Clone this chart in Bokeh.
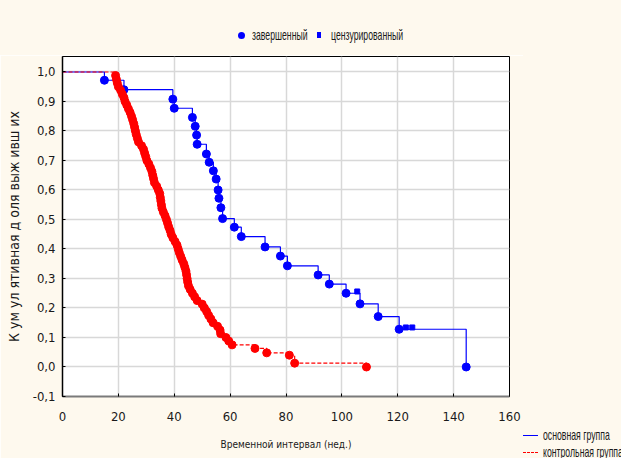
from bokeh.plotting import figure
from bokeh.models import Range1d, FixedTicker, Div
from bokeh.layouts import column, row
from bokeh.embed import file_html
from bokeh.resources import INLINE

# ---- data ----
x_ticks = [0, 20, 40, 60, 80, 100, 120, 140, 160]
y_ticks = [-0.1, 0.0, 0.1, 0.2, 0.3, 0.4, 0.5, 0.6, 0.7, 0.8, 0.9, 1.0]
y_tick_labels = ["-0,1", "0,0", "0,1", "0,2", "0,3", "0,4", "0,5", "0,6", "0,7", "0,8", "0,9", "1,0"]

# main group (основная группа): completed events
main_t = [15, 22, 39.5, 40, 46.5, 47.5, 48, 48.2, 51.5, 52.5, 54, 55, 55.7, 56, 56.7, 57.3,
          61.5, 64, 72.5, 78, 80.5, 91.5, 95.5, 101.5, 106.5, 113, 120.5, 144.5]
main_s = [0.972, 0.940, 0.908, 0.877, 0.846, 0.816, 0.786, 0.755, 0.722, 0.694, 0.665, 0.637,
          0.600, 0.572, 0.540, 0.503, 0.474, 0.442, 0.407, 0.376, 0.343, 0.312, 0.281, 0.250,
          0.214, 0.171, 0.128, 0.0]
# main group censored
cens_t = [105.5, 122.9, 125.2]
cens_s = [0.250, 0.128, 0.128]

# control group (контрольная группа): completed events
ctrl_t = [19.0, 19.3, 19.6, 20.0, 20.8, 21.4, 22.0, 22.4, 23.0, 23.6, 24.2, 24.7, 25.1, 25.5,
          25.8, 26.1, 26.4, 26.8, 27.2, 28.3, 29.0, 29.4, 29.8, 30.2, 30.9, 31.5, 32.0, 32.3,
          32.6, 32.9, 33.7, 34.3, 34.8, 35.0, 35.2, 35.4, 35.6, 36.1, 36.7, 37.2, 37.6, 38.0,
          38.5, 38.9, 39.5, 40.3, 41.0, 41.4, 41.8, 42.3, 42.8, 43.4, 43.8, 44.2, 44.4, 44.6,
          44.8, 45.1, 45.7, 46.5, 47.3, 48.2, 50.0, 50.8, 51.6, 52.3, 53.1, 53.9, 55.5, 56.4,
          56.6, 58.5, 59.5, 60.7, 68.9, 73.1, 81.2, 83.1, 108.8]
ctrl_s = [0.988, 0.975, 0.963, 0.950, 0.938, 0.925, 0.913, 0.900, 0.888, 0.875, 0.863, 0.850,
          0.838, 0.825, 0.813, 0.800, 0.788, 0.775, 0.763, 0.750, 0.738, 0.725, 0.713, 0.700,
          0.688, 0.675, 0.663, 0.650, 0.638, 0.625, 0.613, 0.600, 0.588, 0.575, 0.563, 0.550,
          0.538, 0.525, 0.513, 0.500, 0.488, 0.475, 0.463, 0.450, 0.438, 0.425, 0.413, 0.400,
          0.388, 0.375, 0.363, 0.350, 0.338, 0.325, 0.313, 0.300, 0.288, 0.275, 0.263, 0.250,
          0.238, 0.225, 0.213, 0.200, 0.188, 0.175, 0.163, 0.150, 0.138, 0.125, 0.113, 0.100,
          0.088, 0.075, 0.063, 0.048, 0.040, 0.013, 0.0]

start_t = [0]
start_s = [1.0]

marker_legend_labels = ["завершенный", "цензурированный"]
group_legend_labels = ["основная группа", "контрольная группа"]

FONT = "'DejaVu Sans Condensed', 'Liberation Sans', sans-serif"
HTML_FONT = "'Liberation Sans', Arial, sans-serif"
TXT = "#1a1a1a"
BG = "#fef9ee"
BLUE = "#0000ff"
RED = "#ff0000"


def narrow_text(label, left, center_y):
    # condensed legend text (the original uses a narrow face)
    return (f'<div style="position:absolute;left:{left}px;top:{center_y - 9}px;'
            f'line-height:18px;font-size:15px;white-space:nowrap;'
            f'transform:scaleX(0.58);transform-origin:0 50%;">{label}</div>')


def box(left, top, w, h, extra):
    return (f'<div style="position:absolute;left:{left}px;top:{top}px;'
            f'width:{w}px;height:{h}px;{extra}"></div>')


def strip(width, height, inner):
    return (f'<div style="position:relative;width:{width}px;height:{height}px;'
            f'overflow:hidden;background:{BG};font-family:{HTML_FONT};color:{TXT};">'
            f'{inner}</div>')


# ---- top strip: marker legend ----
top_html = strip(621, 55,
                 box(238, 32, 7, 7, f"border-radius:50%;background:{BLUE};")
                 + narrow_text(marker_legend_labels[0], 252, 35)
                 + box(317, 32, 4, 6, f"background:{BLUE};")
                 + narrow_text(marker_legend_labels[1], 331, 35))
top = Div(text=top_html, width=621, height=55,
          styles={"background-color": BG, "overflow": "hidden", "margin": "0", "padding": "0"})

# ---- main chart ----
p = figure(width=523, height=403, output_backend="svg", toolbar_location=None,
           x_range=Range1d(0, 160), y_range=Range1d(-0.1, 1.0525),
           min_border_left=62, min_border_right=14, min_border_top=1, min_border_bottom=62)
p.background_fill_color = "white"
p.border_fill_color = BG
p.outline_line_color = "black"
p.outline_line_width = 1

p.xaxis.ticker = FixedTicker(ticks=x_ticks)
p.yaxis.ticker = FixedTicker(ticks=y_ticks)
p.yaxis.major_label_overrides = dict(zip(y_ticks, y_tick_labels))

for ax in (p.xaxis[0], p.yaxis[0]):
    ax.major_label_text_font = FONT
    ax.major_label_text_font_size = "13px"
    ax.major_label_text_color = TXT
    ax.axis_label_text_font = FONT
    ax.axis_label_text_font_style = "normal"
    ax.axis_label_text_color = TXT
    ax.major_tick_in = 3
    ax.major_tick_out = 0
    ax.minor_tick_line_color = None
    ax.major_tick_line_color = "black"

p.xaxis.axis_label_text_font_size = "10px"
p.yaxis.axis_label_text_font_size = "14px"
p.yaxis.axis_line_color = "black"
p.yaxis.axis_line_width = 1.5
p.xaxis.axis_line_color = "#7a7a7a"
p.xaxis.axis_line_width = 2
p.xaxis.major_label_standoff = 15
p.yaxis.major_label_standoff = 7
p.xaxis.axis_label = "Временной интервал (нед.)"
p.yaxis.axis_label = "К ум ул ятивная д оля выж ивш их"
p.xaxis.axis_label_standoff = 15
p.yaxis.axis_label_standoff = 8

p.xgrid.grid_line_color = "#d8d8d8"
p.ygrid.grid_line_color = "#d8d8d8"
p.xgrid.grid_line_width = 1.5
p.ygrid.grid_line_width = 1.5

p.step(start_t + main_t, start_s + main_s, mode="after", line_color=BLUE, line_width=1.2)
p.scatter(main_t, main_s, marker="circle", size=8, fill_color=BLUE, line_color=BLUE)
p.scatter(cens_t, [s + 0.006 for s in cens_s], marker="square", size=5,
          fill_color=BLUE, line_color=BLUE)
p.step(start_t + ctrl_t, start_s + ctrl_s, mode="after", line_color=RED,
       line_width=1.2, line_dash="4 2")
p.scatter(ctrl_t, ctrl_s, marker="circle", size=8, fill_color=RED, line_color=RED)

# ---- right strip: group legend ----
side_html = strip(98, 403,
                  box(0, 380, 15, 1, f"background:{BLUE};")
                  + narrow_text(group_legend_labels[0], 20, 380)
                  + box(0, 397, 15, 0, f"border-top:1px dashed {RED};")
                  + narrow_text(group_legend_labels[1], 20, 397))
side = Div(text=side_html, width=98, height=403,
           styles={"background-color": BG, "overflow": "hidden", "margin": "0", "padding": "0"})

layout = column(top, row(p, side, spacing=0), spacing=0)
open("out.html", "w").write(file_html(layout, INLINE))
